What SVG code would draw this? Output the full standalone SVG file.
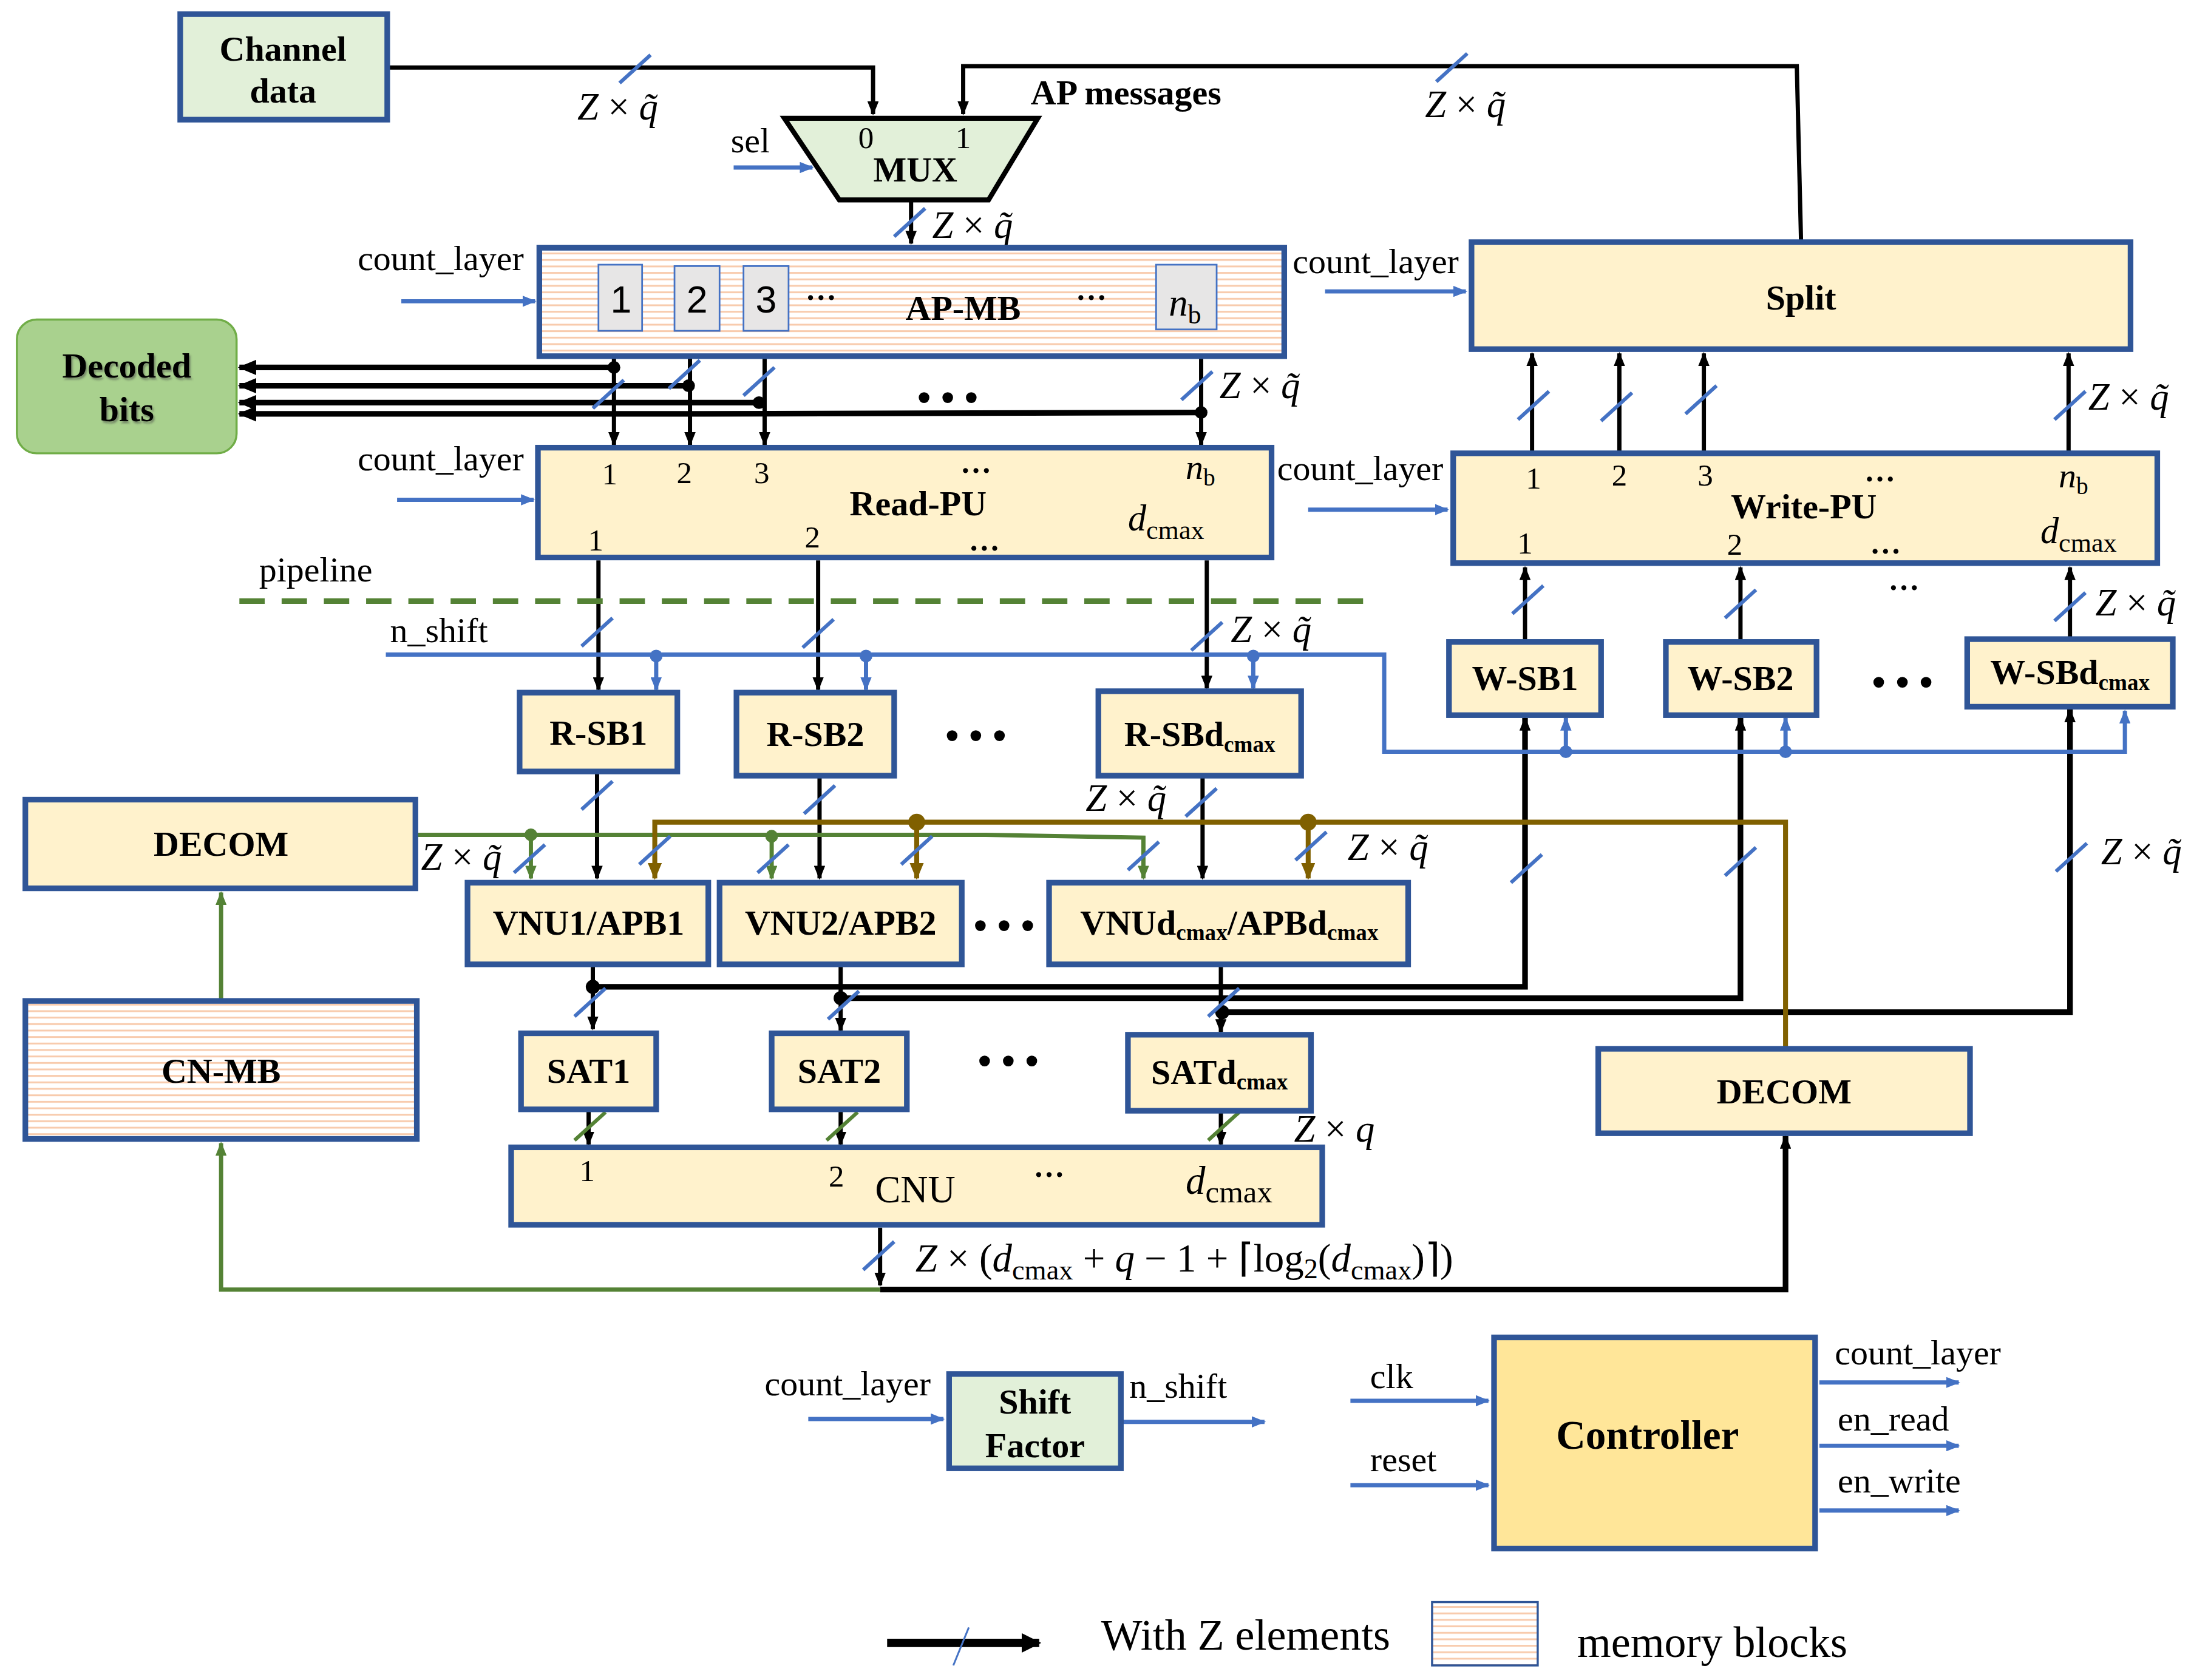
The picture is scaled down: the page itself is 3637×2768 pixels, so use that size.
<svg xmlns="http://www.w3.org/2000/svg" width="3637" height="2768" viewBox="0 0 3637 2768">
<defs>
<style>
.box{fill:#fff2cc;stroke:#2f5597;stroke-width:4}
.gbox{fill:#e2f0d9;stroke:#2f5597;stroke-width:4}
.mem{fill:url(#stripes);stroke:#2f5597;stroke-width:4}
.cell{fill:#e7e6e6;stroke:#4472c4;stroke-width:1.2}
text{font-family:"Liberation Serif","Times New Roman",serif;fill:#000}
.b{font-weight:bold;font-size:25px;text-anchor:middle}
.t{font-size:25px}
.z{font-size:27px;font-style:italic}
.up{font-style:normal}
.n{font-size:22px;text-anchor:middle}
.s{font-family:"Liberation Sans",Arial,sans-serif;font-size:27px;text-anchor:middle}
.el{font-weight:bold;font-size:22px;text-anchor:middle}
.big{font-size:28px;text-anchor:middle;font-weight:bold}
.k{fill:none;stroke:#000;stroke-width:3}
.kw{fill:none;stroke:#000;stroke-width:4}
.bl{fill:none;stroke:#4472c4;stroke-width:3}
.gr{fill:none;stroke:#548235;stroke-width:3}
.br{fill:none;stroke:#806000;stroke-width:3.5}
.sl{stroke:#4472c4;stroke-width:2.6}
.slg{stroke:#548235;stroke-width:2.6}
</style>
<pattern id="stripes" patternUnits="userSpaceOnUse" width="10" height="4.6"><rect width="10" height="4.6" fill="#ffffff"/><rect y="0" width="10" height="1.3" fill="#f8cbad"/></pattern>
<marker id="ak" viewBox="0 0 10 8" refX="9" refY="4" markerWidth="10" markerHeight="8" orient="auto" markerUnits="userSpaceOnUse"><path d="M0,0 L10,4 L0,8 z" fill="#000"/></marker>
<marker id="akw" viewBox="0 0 12 10" refX="11" refY="5" markerWidth="13" markerHeight="11" orient="auto" markerUnits="userSpaceOnUse"><path d="M0,0 L12,5 L0,10 z" fill="#000"/></marker>
<marker id="ab" viewBox="0 0 10 8" refX="9" refY="4" markerWidth="10" markerHeight="8" orient="auto" markerUnits="userSpaceOnUse"><path d="M0,0 L10,4 L0,8 z" fill="#4472c4"/></marker>
<marker id="ag" viewBox="0 0 10 8" refX="9" refY="4" markerWidth="10" markerHeight="8" orient="auto" markerUnits="userSpaceOnUse"><path d="M0,0 L10,4 L0,8 z" fill="#548235"/></marker>
<marker id="an" viewBox="0 0 12 10" refX="11" refY="5" markerWidth="12" markerHeight="10" orient="auto" markerUnits="userSpaceOnUse"><path d="M0,0 L12,5 L0,10 z" fill="#806000"/></marker>
<marker id="aleg" viewBox="0 0 10 10" refX="9" refY="5" markerWidth="14" markerHeight="14" orient="auto" markerUnits="userSpaceOnUse"><path d="M0,0 L10,5 L0,10 z" fill="#000"/></marker>
<line id="slash" x1="-11" y1="10" x2="11" y2="-10"/>
<filter id="sh" x="-10%" y="-10%" width="120%" height="130%"><feDropShadow dx="1" dy="1.5" stdDeviation="0.8" flood-color="#404040" flood-opacity="0.5"/></filter>
</defs>
<rect width="3637" height="2768" fill="#ffffff"/>
<g transform="scale(2.3195)">

<g id="connectors">
<path class="k" d="M275,48 H620 V81" marker-end="url(#ak)"/>
<path class="k" d="M1279,171 L1276,47 H684 V81" marker-end="url(#ak)"/>
<path class="k" d="M647,142 V173" marker-end="url(#ak)"/>
<path class="k" d="M436,254 V316" marker-end="url(#ak)"/>
<path class="k" d="M490,254 V316" marker-end="url(#ak)"/>
<path class="k" d="M543,254 V316" marker-end="url(#ak)"/>
<path class="k" d="M853,254 V316" marker-end="url(#ak)"/>
<path class="kw" d="M436,261 H170" marker-end="url(#akw)"/>
<path class="kw" d="M489,274 H170" marker-end="url(#akw)"/>
<path class="kw" d="M539,286 H170" marker-end="url(#akw)"/>
<path class="kw" d="M853,293 L500,294 H170" marker-end="url(#akw)"/>
<g fill="#000"><circle cx="436" cy="261" r="4.5"/><circle cx="489" cy="274" r="4.5"/><circle cx="539" cy="286" r="4.5"/><circle cx="853" cy="293" r="4.5"/></g>
<path class="k" d="M425,398 V490" marker-end="url(#ak)"/>
<path class="k" d="M581,398 V490" marker-end="url(#ak)"/>
<path class="k" d="M857,398 V489" marker-end="url(#ak)"/>
<path class="k" d="M424,549 V624" marker-end="url(#ak)"/>
<path class="k" d="M582,552 V624" marker-end="url(#ak)"/>
<path class="k" d="M854,552 V624" marker-end="url(#ak)"/>
<path class="k" d="M421,686 V731" marker-end="url(#ak)"/>
<path class="k" d="M597,686 V732" marker-end="url(#ak)"/>
<path class="k" d="M867,686 V733" marker-end="url(#ak)"/>
<path class="kw" d="M421,701 H1083 V510" marker-end="url(#ak)"/>
<path class="kw" d="M597,709 H1236 V510" marker-end="url(#ak)"/>
<path class="kw" d="M868,719 H1470 V504" marker-end="url(#ak)"/>
<g fill="#000"><circle cx="421" cy="701" r="5"/><circle cx="597" cy="709" r="5"/><circle cx="868" cy="719" r="5"/></g>
<path class="k" d="M418,789 V813" marker-end="url(#ak)"/>
<path class="k" d="M597,789 V813" marker-end="url(#ak)"/>
<path class="k" d="M867,790 V813" marker-end="url(#ak)"/>
<path class="k" d="M625,872 V913" marker-end="url(#ak)"/>
<path class="kw" d="M625,916 H1268 V807" marker-end="url(#ak)"/>
<path class="k" d="M1083,455 V403" marker-end="url(#ak)"/>
<path class="k" d="M1236,455 V403" marker-end="url(#ak)"/>
<path class="k" d="M1470,453 V403" marker-end="url(#ak)"/>
<path class="k" d="M1088,321 V251" marker-end="url(#ak)"/>
<path class="k" d="M1150,321 V251" marker-end="url(#ak)"/>
<path class="k" d="M1210,321 V251" marker-end="url(#ak)"/>
<path class="k" d="M1469,321 V251" marker-end="url(#ak)"/>

<path class="bl" d="M521,119 H577" marker-end="url(#ab)"/>
<path class="bl" d="M285,214 H380" marker-end="url(#ab)"/>
<path class="bl" d="M282,355 H379" marker-end="url(#ab)"/>
<path class="bl" d="M941,207 H1041" marker-end="url(#ab)"/>
<path class="bl" d="M929,362 H1028" marker-end="url(#ab)"/>
<path class="bl" d="M274,465 H983 V534 H1509 V505" marker-end="url(#ab)"/>
<path class="bl" d="M466,465 V490" marker-end="url(#ab)"/>
<path class="bl" d="M615,465 V490" marker-end="url(#ab)"/>
<path class="bl" d="M890,465 V489" marker-end="url(#ab)"/>
<path class="bl" d="M1112,534 V510" marker-end="url(#ab)"/>
<path class="bl" d="M1268,534 V510" marker-end="url(#ab)"/>
<g fill="#4472c4"><circle cx="466" cy="466" r="4.5"/><circle cx="615" cy="466" r="4.5"/><circle cx="890" cy="466" r="4.5"/><circle cx="1112" cy="534" r="4.5"/><circle cx="1268" cy="534" r="4.5"/></g>
<path class="bl" d="M574,1008 H670" marker-end="url(#ab)"/>
<path class="bl" d="M797,1010 H898" marker-end="url(#ab)"/>
<path class="bl" d="M959,995 H1057" marker-end="url(#ab)"/>
<path class="bl" d="M959,1055 H1057" marker-end="url(#ab)"/>
<path class="bl" d="M1292,982 H1391" marker-end="url(#ab)"/>
<path class="bl" d="M1292,1027 H1391" marker-end="url(#ab)"/>
<path class="bl" d="M1292,1073 H1391" marker-end="url(#ab)"/>

<path d="M170,427 H977" fill="none" stroke="#548235" stroke-width="4" stroke-dasharray="18 12"/>
<path class="gr" d="M295,593 H700 L812,595 V624" marker-end="url(#ag)"/>
<path class="gr" d="M377,593 V624" marker-end="url(#ag)"/>
<path class="gr" d="M548,594 V624" marker-end="url(#ag)"/>
<g fill="#548235"><circle cx="377" cy="593" r="4.5"/><circle cx="548" cy="594" r="4.5"/></g>
<path class="gr" d="M157,710 V634" marker-end="url(#ag)"/>
<path class="gr" d="M625,916 H157 V812" marker-end="url(#ag)"/>

<path class="br" d="M1268,745 V584 H465 V624" marker-end="url(#an)"/>
<path class="br" d="M651,584 V624" marker-end="url(#an)"/>
<path class="br" d="M929,584 V624" marker-end="url(#an)"/>
<g fill="#806000"><circle cx="651" cy="584" r="6"/><circle cx="929" cy="584" r="6"/></g>

<g class="sl">
<use href="#slash" x="451" y="49"/>
<use href="#slash" x="1031" y="48"/>
<use href="#slash" x="646" y="158"/>
<use href="#slash" x="432" y="280"/>
<use href="#slash" x="486" y="266"/>
<use href="#slash" x="539" y="271"/>
<use href="#slash" x="850" y="274"/>
<use href="#slash" x="424" y="449"/>
<use href="#slash" x="581" y="450"/>
<use href="#slash" x="857" y="452"/>
<use href="#slash" x="424" y="565"/>
<use href="#slash" x="582" y="568"/>
<use href="#slash" x="853" y="570"/>
<use href="#slash" x="376" y="610"/>
<use href="#slash" x="549" y="610"/>
<use href="#slash" x="812" y="608"/>
<use href="#slash" x="465" y="604"/>
<use href="#slash" x="651" y="604"/>
<use href="#slash" x="931" y="601"/>
<use href="#slash" x="419" y="712"/>
<use href="#slash" x="599" y="714"/>
<use href="#slash" x="869" y="712"/>
<use href="#slash" x="1084" y="617"/>
<use href="#slash" x="1236" y="612"/>
<use href="#slash" x="1471" y="609"/>
<use href="#slash" x="1089" y="288"/>
<use href="#slash" x="1148" y="289"/>
<use href="#slash" x="1208" y="284"/>
<use href="#slash" x="1470" y="288"/>
<use href="#slash" x="1085" y="426"/>
<use href="#slash" x="1236" y="429"/>
<use href="#slash" x="1470" y="431"/>
<use href="#slash" x="624" y="892"/>
</g>
<g class="slg">
<use href="#slash" x="419" y="800"/>
<use href="#slash" x="598" y="800"/>
<use href="#slash" x="869" y="800"/>
</g>
</g>

<g id="labels">
<text class="z" x="410" y="85">Z <tspan class="up">×</tspan> q̃</text>
<text class="z" x="1012" y="83">Z <tspan class="up">×</tspan> q̃</text>
<text class="z" x="662" y="169">Z <tspan class="up">×</tspan> q̃</text>
<text class="z" x="866" y="283">Z <tspan class="up">×</tspan> q̃</text>
<text class="z" x="874" y="456">Z <tspan class="up">×</tspan> q̃</text>
<text class="z" x="771" y="576">Z <tspan class="up">×</tspan> q̃</text>
<text class="z" x="299" y="618">Z <tspan class="up">×</tspan> q̃</text>
<text class="z" x="957" y="611">Z <tspan class="up">×</tspan> q̃</text>
<text class="z" x="1492" y="614">Z <tspan class="up">×</tspan> q̃</text>
<text class="z" x="1483" y="291">Z <tspan class="up">×</tspan> q̃</text>
<text class="z" x="1488" y="437">Z <tspan class="up">×</tspan> q̃</text>
<text class="z" x="919" y="811">Z <tspan class="up">×</tspan> q</text>
<text class="z" x="650" y="903" style="font-size:28px">Z <tspan class="up">× (</tspan>d<tspan class="up" font-size="20" dy="6">cmax</tspan><tspan class="up" dy="-6"> + </tspan>q<tspan class="up"> − 1 + ⌈log</tspan><tspan class="up" font-size="20" dy="5">2</tspan><tspan class="up" dy="-5">(</tspan>d<tspan class="up" font-size="20" dy="6">cmax</tspan><tspan class="up" dy="-6">)⌉)</tspan></text>
<text class="b" x="732" y="74" style="text-anchor:start">AP messages</text>
<text class="t" x="519" y="108">sel</text>
<text class="t" x="254" y="192">count_layer</text>
<text class="t" x="254" y="334">count_layer</text>
<text class="t" x="918" y="194">count_layer</text>
<text class="t" x="907" y="341">count_layer</text>
<text class="t" x="184" y="413">pipeline</text>
<text class="t" x="277" y="456">n_shift</text>
<text class="big" x="673" y="292">• • •</text>
<text class="el" x="1352" y="419">…</text>
<text class="big" x="693" y="532">• • •</text>
<text class="big" x="1351" y="494">• • •</text>
<text class="big" x="713" y="667">• • •</text>
<text class="big" x="716" y="763">• • •</text>
</g>

<g id="channel-data">
<rect class="gbox" x="128" y="10" width="147" height="75"/>
<text class="b" x="201" y="43">Channel</text>
<text class="b" x="201" y="73">data</text>
</g>

<g id="mux">
<path d="M557,84 H737 L702,142 H596 Z" fill="#e2f0d9" stroke="#000" stroke-width="3.5"/>
<text class="n" x="615" y="105">0</text>
<text class="n" x="684" y="105">1</text>
<text class="b" x="650" y="129">MUX</text>
</g>

<g id="ap-mb">
<rect class="mem" x="383" y="176" width="529" height="77"/>
<rect class="cell" x="425" y="188" width="31" height="47"/>
<rect class="cell" x="479" y="189" width="32" height="46"/>
<rect class="cell" x="528" y="189" width="32" height="46"/>
<rect class="cell" x="821" y="188" width="43" height="46"/>
<text class="s" x="441" y="222">1</text>
<text class="s" x="495" y="222">2</text>
<text class="s" x="544" y="222">3</text>
<text class="el" x="583" y="213">…</text>
<text class="b" x="684" y="227">AP-MB</text>
<text class="el" x="775" y="213">…</text>
<text class="z" x="830" y="224">n<tspan class="up" font-size="19" dy="6">b</tspan></text>
</g>

<g id="decoded-bits">
<rect x="12" y="227" width="156" height="95" rx="14" fill="#a9d18e" stroke="#70ad47" stroke-width="1.5"/>
<text class="b" x="90" y="268" filter="url(#sh)">Decoded</text>
<text class="b" x="90" y="299" filter="url(#sh)">bits</text>
</g>

<g id="read-pu">
<rect class="box" x="382" y="318" width="521" height="78"/>
<text class="n" x="433" y="344">1</text>
<text class="n" x="486" y="343">2</text>
<text class="n" x="541" y="343">3</text>
<text class="el" x="693" y="336">…</text>
<text class="z" x="842" y="340" style="font-size:25px">n<tspan class="up" font-size="17" dy="5">b</tspan></text>
<text class="b" x="652" y="366">Read-PU</text>
<text class="n" x="423" y="391">1</text>
<text class="n" x="577" y="389">2</text>
<text class="el" x="699" y="391">…</text>
<text class="z" x="801" y="377" style="font-size:26px">d<tspan class="up" font-size="19" dy="6">cmax</tspan></text>
</g>

<g id="r-sb1"><rect class="box" x="369" y="492" width="112" height="56"/><text class="b" x="425" y="529">R-SB1</text></g>
<g id="r-sb2"><rect class="box" x="523" y="492" width="112" height="59"/><text class="b" x="579" y="530">R-SB2</text></g>
<g id="r-sbdcmax"><rect class="box" x="780" y="491" width="144" height="60"/><text class="b" x="852" y="530">R-SBd<tspan font-size="16" dy="4">cmax</tspan></text></g>

<g id="split">
<rect class="box" x="1045" y="172" width="468" height="76"/>
<text class="b" x="1279" y="220">Split</text>
</g>

<g id="write-pu">
<rect class="box" x="1032" y="322" width="500" height="78"/>
<text class="n" x="1089" y="347">1</text>
<text class="n" x="1150" y="345">2</text>
<text class="n" x="1211" y="345">3</text>
<text class="el" x="1335" y="342">…</text>
<text class="z" x="1462" y="346" style="font-size:25px">n<tspan class="up" font-size="17" dy="5">b</tspan></text>
<text class="b" x="1281" y="368">Write-PU</text>
<text class="n" x="1083" y="393">1</text>
<text class="n" x="1232" y="394">2</text>
<text class="el" x="1339" y="393">…</text>
<text class="z" x="1449" y="386" style="font-size:26px">d<tspan class="up" font-size="19" dy="6">cmax</tspan></text>
</g>

<g id="w-sb1"><rect class="box" x="1029" y="456" width="108" height="52"/><text class="b" x="1083" y="490">W-SB1</text></g>
<g id="w-sb2"><rect class="box" x="1183" y="456" width="107" height="52"/><text class="b" x="1236" y="490">W-SB2</text></g>
<g id="w-sbdcmax"><rect class="box" x="1397" y="454" width="146" height="48"/><text class="b" x="1470" y="486">W-SBd<tspan font-size="16" dy="4">cmax</tspan></text></g>

<g id="decom-left"><rect class="box" x="18" y="568" width="277" height="63"/><text class="b" x="157" y="608">DECOM</text></g>
<g id="cn-mb"><rect class="mem" x="18" y="711" width="278" height="98"/><text class="b" x="157" y="769">CN-MB</text></g>

<g id="vnu1"><rect class="box" x="332" y="627" width="171" height="58"/><text class="b" x="418" y="664">VNU1/APB1</text></g>
<g id="vnu2"><rect class="box" x="511" y="627" width="172" height="58"/><text class="b" x="597" y="664">VNU2/APB2</text></g>
<g id="vnudcmax"><rect class="box" x="745" y="627" width="255" height="58"/><text class="b" x="873" y="664">VNUd<tspan font-size="16" dy="4">cmax</tspan><tspan dy="-4">/APBd</tspan><tspan font-size="16" dy="4">cmax</tspan></text></g>

<g id="sat1"><rect class="box" x="370" y="734" width="96" height="54"/><text class="b" x="418" y="769">SAT1</text></g>
<g id="sat2"><rect class="box" x="548" y="734" width="96" height="54"/><text class="b" x="596" y="769">SAT2</text></g>
<g id="satdcmax"><rect class="box" x="801" y="735" width="130" height="54"/><text class="b" x="866" y="770">SATd<tspan font-size="16" dy="4">cmax</tspan></text></g>

<g id="cnu">
<rect class="box" x="363" y="815" width="576" height="55"/>
<text class="n" x="417" y="839">1</text>
<text class="n" x="594" y="843">2</text>
<text class="t" x="650" y="854" style="font-size:27px;text-anchor:middle">CNU</text>
<text class="el" x="745" y="836">…</text>
<text class="z" x="842" y="848" style="font-size:28px">d<tspan class="up" font-size="22" dy="6">cmax</tspan></text>
</g>

<g id="decom-right"><rect class="box" x="1135" y="745" width="264" height="60"/><text class="b" x="1267" y="784">DECOM</text></g>

<g id="shift-factor">
<rect class="gbox" x="674" y="976" width="122" height="67"/>
<text class="b" x="735" y="1004">Shift</text>
<text class="b" x="735" y="1035">Factor</text>
<text class="t" x="543" y="991">count_layer</text>
<text class="t" x="802" y="993">n_shift</text>
</g>

<g id="controller">
<rect x="1061" y="950" width="228" height="150" fill="#ffe699" stroke="#2f5597" stroke-width="4"/>
<text class="b" x="1170" y="1029" style="font-size:29px">Controller</text>
<text class="t" x="973" y="986">clk</text>
<text class="t" x="973" y="1045">reset</text>
<text class="t" x="1303" y="969">count_layer</text>
<text class="t" x="1305" y="1016">en_read</text>
<text class="t" x="1305" y="1060">en_write</text>
</g>

<g id="legend">
<path d="M630,1167 H738" fill="none" stroke="#000" stroke-width="6" marker-end="url(#aleg)"/>
<line x1="688" y1="1156" x2="677" y2="1183" stroke="#4472c4" stroke-width="1.3"/>
<text class="t" x="782" y="1172" style="font-size:31px">With Z elements</text>
<rect x="1017" y="1138" width="75" height="45" fill="url(#stripes)" stroke="#2f5597" stroke-width="1.5"/>
<text class="t" x="1120" y="1177" style="font-size:31px">memory blocks</text>
</g>

</g>
</svg>
